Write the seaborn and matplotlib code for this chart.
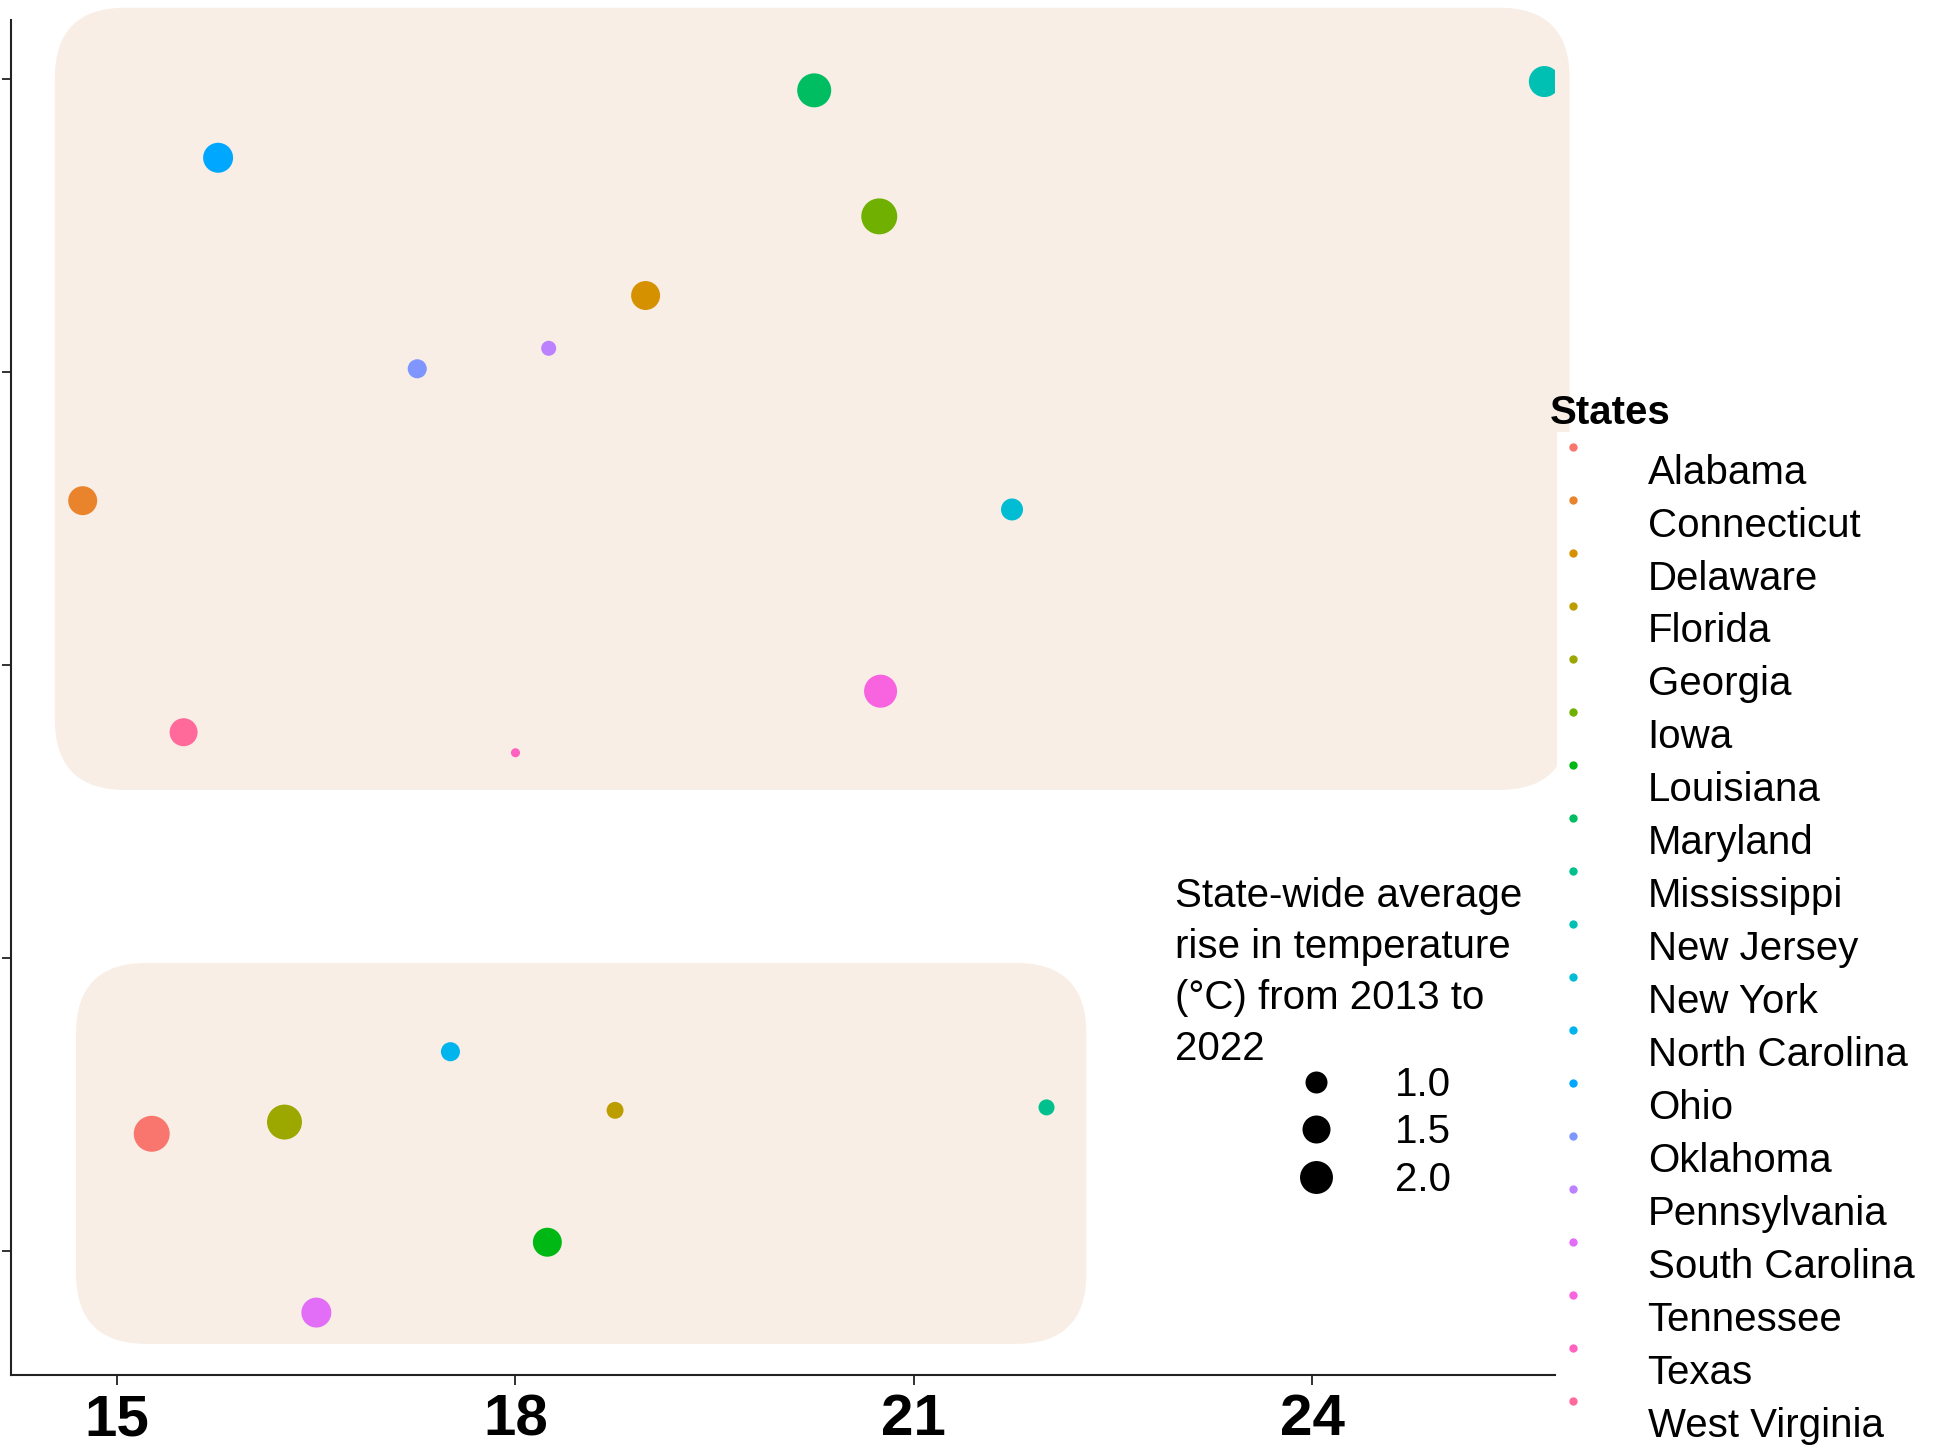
import numpy as np
import pandas as pd
import matplotlib.pyplot as plt
import matplotlib.transforms as mtransforms
import seaborn as sns
from matplotlib.patches import FancyBboxPatch
from matplotlib.lines import Line2D

# ---- data ----
states = ['Alabama', 'Connecticut', 'Delaware', 'Florida', 'Georgia', 'Iowa',
          'Louisiana', 'Maryland', 'Mississippi', 'New Jersey', 'New York',
          'North Carolina', 'Ohio', 'Oklahoma', 'Pennsylvania', 'South Carolina',
          'Tennessee', 'Texas', 'West Virginia']
mean_temp = [15.26, 14.74, 18.98, 18.75, 16.26, 20.74,
             18.24, 20.25, 22.00, 25.75, 21.74,
             17.51, 15.76, 17.26, 18.25, 16.50,
             20.75, 18.00, 15.50]
y_value = [1.40, 3.56, 4.26, 1.48, 1.44, 4.53,
           1.03, 4.96, 1.49, 4.99, 3.53,
           1.68, 4.73, 4.01, 4.08, 0.79,
           2.91, 2.70, 2.77]
temp_rise = [2.35, 1.59, 1.59, 0.67, 2.23, 2.35,
             1.59, 2.12, 0.62, 1.80, 1.00,
             0.80, 1.69, 0.80, 0.57, 1.69,
             2.01, 0.33, 1.50]
x_ticks = [15, 18, 21, 24]
y_ticks = [1, 2, 3, 4, 5]
size_breaks = [1.0, 1.5, 2.0]

df = pd.DataFrame({'State': states, 'mean_temp': mean_temp,
                   'y_value': y_value, 'temp_rise': temp_rise})


def hcl_hex(h, c=100, l=65):
    # polar LUV -> sRGB, same as R's hcl() used by ggplot's hue palette
    h = np.deg2rad(h)
    u, v = c * np.cos(h), c * np.sin(h)
    xn, yn, zn = 95.047, 100.0, 108.883
    un = 4 * xn / (xn + 15 * yn + 3 * zn)
    vn = 9 * yn / (xn + 15 * yn + 3 * zn)
    Y = yn * ((l + 16) / 116) ** 3
    up = u / (13 * l) + un
    vp = v / (13 * l) + vn
    X = Y * 9 * up / (4 * vp)
    Z = Y * (12 - 3 * up - 20 * vp) / (4 * vp)
    m = np.array([[3.2404542, -1.5371385, -0.4985314],
                  [-0.9692660, 1.8760108, 0.0415560],
                  [0.0556434, -0.2040259, 1.0572252]])
    rgb = m @ (np.array([X, Y, Z]) / 100)
    rgb = np.where(rgb <= 0.0031308, 12.92 * rgb, 1.055 * np.abs(rgb) ** (1 / 2.4) - 0.055)
    rgb = np.clip(rgb, 0, 1)
    return '#%02x%02x%02x' % tuple(int(round(x * 255)) for x in rgb)


n = len(states)
palette = {s: hcl_hex(15 + k * 360 / n) for k, s in enumerate(states)}


def size_area(v):
    # marker area (pt^2) grows linearly with the temperature rise
    return -60 + 311 * v


sns.set_style('ticks')
plt.rcParams['font.family'] = ['Liberation Sans', 'DejaVu Sans']
plt.rcParams['text.color'] = 'black'

fig = plt.figure(figsize=(19.39, 14.54), dpi=100)
ax = fig.add_axes([11 / 1939, 79 / 1454, 1544 / 1939, 1355 / 1454])
ax.set_xlim(14.20, 25.83)
ax.set_ylim(0.577, 5.20)

# rounded background panels behind the two clusters
(px0, py0), (px1, py1) = ax.transData.transform([(0, 0), (1, 1)])
aspect = (px1 - px0) / (py1 - py0)
for x0, y0, x1, y1 in [(14.53, 2.573, 25.94, 5.242), (14.69, 0.683, 22.30, 1.983)]:
    ax.add_patch(FancyBboxPatch((x0, y0), x1 - x0, y1 - y0,
                                boxstyle='round,pad=0,rounding_size=0.53',
                                mutation_aspect=aspect, fc='#F9EEE6', ec='none',
                                zorder=0.5, clip_on=False))

vmin, vmax = min(temp_rise), max(temp_rise)
sns.scatterplot(data=df, x='mean_temp', y='y_value', hue='State', hue_order=states,
                palette=palette, size='temp_rise', sizes=(size_area(vmin), size_area(vmax)),
                size_norm=(vmin, vmax), linewidth=0, legend=False, ax=ax, zorder=3)

sns.despine(ax=ax)
for side in ['left', 'bottom']:
    ax.spines[side].set_linewidth(1.5)
    ax.spines[side].set_color('#222222')
ax.set_xticks(x_ticks)
ax.set_yticks(y_ticks)
ax.set_yticklabels([])
ax.set_xlabel('')
ax.set_ylabel('')
ax.tick_params(axis='x', length=7, width=1.3, pad=6, colors='#222222')
ax.tick_params(axis='y', length=6.5, width=1.3, colors='#222222')
for lab in ax.get_xticklabels():
    lab.set_family(['Liberation Sans Narrow', 'Liberation Sans'])
    lab.set_fontweight('bold')
    lab.set_fontsize(42)
    lab.set_color('black')

# ---- States legend ----
fig.text(1550 / 1939, 0.7084, 'States', fontsize=29, fontweight='bold',
         ha='left', va='baseline')
dot_handles = [Line2D([], [], marker='o', ls='', color=palette[s], markersize=6,
                      markeredgewidth=0) for s in states]
leg = fig.legend(dot_handles, states, loc='upper left',
                 bbox_to_anchor=(1557 / 1939, 0.7032), bbox_transform=fig.transFigure,
                 fontsize=29, borderpad=0, borderaxespad=0, handlelength=0.8,
                 handletextpad=1.45, labelspacing=0.372, frameon=True,
                 facecolor='white', edgecolor='none', framealpha=1, fancybox=False)
# labels sit a bit below their keys, as in the original
shift = mtransforms.ScaledTranslation(0, -0.22, fig.dpi_scale_trans)
for t in leg.get_texts():
    t.set_transform(t.get_transform() + shift)

# ---- size legend ----
size_handles = [Line2D([], [], marker='o', ls='', color='black',
                       markersize=np.sqrt(size_area(v)), markeredgewidth=0)
                for v in size_breaks]
fig.legend(size_handles, ['%.1f' % v for v in size_breaks], loc='upper left',
           bbox_to_anchor=(1300 / 1939, 0.2668), bbox_transform=fig.transFigure,
           frameon=False, borderpad=0, borderaxespad=0, handlelength=0.8,
           handletextpad=1.55, labelspacing=0.23, fontsize=29)
fig.text(1175 / 1939, 0.397,
         'State-wide average\nrise in temperature\n(°C) from 2013 to\n2022',
         fontsize=29, ha='left', va='top', linespacing=1.44)

fig.savefig('out.png', dpi=100)
